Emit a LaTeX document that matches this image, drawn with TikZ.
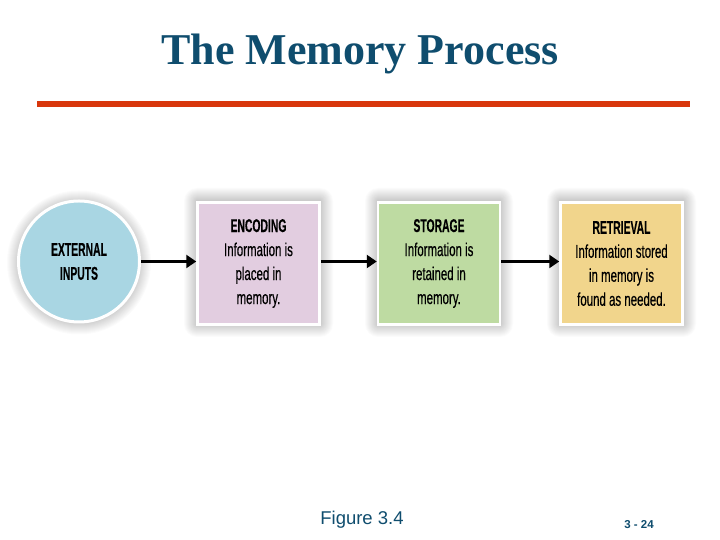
\documentclass[tikz,border=0pt]{standalone}
\usepackage{fontspec}
\setmainfont{Liberation Serif}
\setsansfont{Liberation Sans}
\newfontfamily\cond[FakeStretch=0.62,FakeBold=0.4]{Liberation Sans}
\newfontfamily\condbold[FakeStretch=0.56,FakeBold=0.3]{Liberation Sans Bold}
\usetikzlibrary{arrows.meta}
\definecolor{titleblue}{HTML}{0F4D6E}
\definecolor{rulered}{HTML}{D8360C}
\definecolor{extblue}{HTML}{A9D6E3}
\definecolor{encpink}{HTML}{E2CDE0}
\definecolor{storgreen}{HTML}{BEDBA2}
\definecolor{retyellow}{HTML}{F1D58C}
\newcommand{\hd}[1]{{\condbold #1}}
\tikzset{
  stagebox/.style={draw=white, line width=2.5pt, minimum width=122pt, minimum height=122pt, inner sep=0pt, align=center,
    font=\cond\fontsize{18.5}{24}\selectfont, text=black},
  extcircle/.style={circle, draw=white, line width=3pt, minimum size=121pt, inner sep=0pt, align=center, fill=extblue,
    font=\condbold\fontsize{18.5}{24}\selectfont},
  flow/.style={draw=black, line width=2.4pt, -{Triangle[length=10pt,width=13pt]}},
}
\newcommand{\boxshadow}[4]{% x1 y1 x2 y2
  \foreach \d in {1,2,...,13}{
    \fill[black, opacity=0.017, rounded corners=\d pt] (#1-\d, #2-\d-1) rectangle (#3+\d, #4+\d-1);
  }
}
\begin{document}
\begin{tikzpicture}[x=1pt,y=1pt]
\useasboundingbox (0,0) rectangle (720,540);
\fill[white] (0,0) rectangle (720,540);
% title
\node[font=\bfseries\fontsize{44}{46}\selectfont, text=titleblue] (title) at (360,486) {The Memory Process};
\fill[rulered] (37,433) rectangle (690,439);
% shadows
\foreach \r in {61,62,...,72}{
  \fill[black, opacity=0.017] (79,277.5) circle (\r);
}
\boxshadow{197}{217}{320}{340}
\boxshadow{378}{217}{500}{340}
\boxshadow{560}{217}{683}{340}
% nodes
\node[extcircle] (ext) at (79,278.5) {EXTERNAL\\INPUTS};
\node[stagebox, fill=encpink] (enc) at (258.5,276.5) {\hd{ENCODING}\\Information is\\placed in\\memory.};
\node[stagebox, fill=storgreen] (sto) at (439,276.5) {\hd{STORAGE}\\Information is\\retained in\\memory.};
\node[stagebox, fill=retyellow] (ret) at (621.5,276.5) {\hd{RETRIEVAL}\\Information stored\\in memory is\\found as needed.};
% arrows
\draw[flow] (ext.east) -- (enc.west |- ext.east);
\draw[flow] (enc.east |- ext.east) -- (sto.west |- ext.east);
\draw[flow] (sto.east |- ext.east) -- (ret.west |- ext.east);
% footer
\node[font=\sffamily\fontsize{18.5}{20}\selectfont, text=titleblue] (fig) at (362,20) {Figure 3.4};
\node[font=\sffamily\bfseries\fontsize{11.5}{13}\selectfont, text=titleblue] (pg) at (639,15) {3 - 24};
\end{tikzpicture}
\end{document}
